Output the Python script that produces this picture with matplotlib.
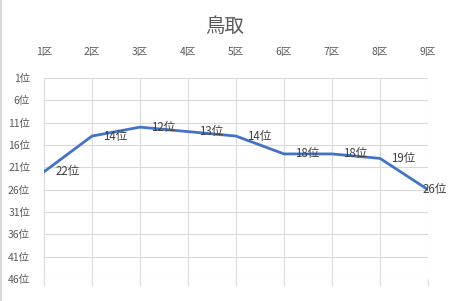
import matplotlib
matplotlib.use("Agg")
import matplotlib.pyplot as plt
from matplotlib.lines import Line2D

plt.rcParams['font.family'] = ['Noto Sans CJK JP', 'DejaVu Sans']

title = "鳥取"
categories = ["1区", "2区", "3区", "4区", "5区", "6区", "7区", "8区", "9区"]
ranks = [22, 14, 12, 13, 14, 18, 18, 19, 26]
yticks = [1, 6, 11, 16, 21, 26, 31, 36, 41, 46]
ytick_labels = [f"{v}位" for v in yticks]

W, H = 451, 301
fig = plt.figure(figsize=(W / 100, H / 100), dpi=100)
left, right, top, bottom = 44, 428, 78, 279
ax = fig.add_axes([left / W, 1 - bottom / H, (right - left) / W, (bottom - top) / H])

x = list(range(len(categories)))
ax.plot(x, ranks, color="#4472C4", linewidth=2.0, solid_joinstyle="round", zorder=3)

for i, (xi, r) in enumerate(zip(x, ranks)):
    dx = 8 if i < len(x) - 1 else -4
    ax.annotate(f"{r}位", (xi, r), xytext=(dx, 0), textcoords="offset points",
                ha="left", va="center", fontsize=8.3, color="#404040", zorder=4,
                annotation_clip=False)

ax.set_xlim(0, len(categories) - 1)
ax.set_ylim(46, 1)
ax.set_xticks(x)
ax.set_xticklabels(categories)
ax.set_yticks(yticks)
ax.set_yticklabels(ytick_labels)

ax.tick_params(axis="x", which="both", top=False, labeltop=True, bottom=True, labelbottom=False,
               length=5, color="#d9d9d9", width=0.8, labelsize=7.5, labelcolor="#595959", pad=10)
ax.tick_params(axis="y", length=0, labelsize=7.5, labelcolor="#595959", pad=10)

ax.grid(True, color="#d9d9d9", linewidth=0.8, zorder=0)
for s in ax.spines.values():
    s.set_visible(False)
ax.set_axisbelow(True)

fig.text(225 / W, 1 - 27 / H, title, ha="center", va="center", fontsize=14, color="#595959")

fig.add_artist(Line2D([0.5 / W, 0.5 / W], [0, 1], color="#d9d9d9", linewidth=1.5,
                      transform=fig.transFigure))

fig.savefig("out.png", dpi=100, facecolor="white")
